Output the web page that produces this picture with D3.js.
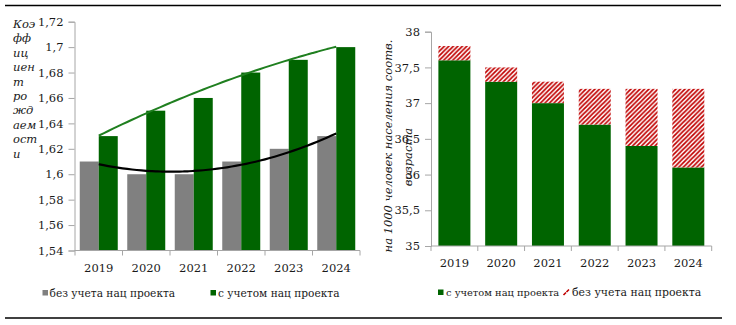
<!DOCTYPE html>
<html><head><meta charset="utf-8">
<script src="https://cdn.jsdelivr.net/npm/d3@7"></script>
<style>
html,body{margin:0;padding:0;background:#fff;}
svg{display:block;}
</style></head>
<body>
<svg id="c" width="736" height="325"></svg>
<script>
// ---- data ----
const years = ["2019","2020","2021","2022","2023","2024"];
// left chart: fertility coefficient
const fertWithout = [1.61, 1.60, 1.60, 1.61, 1.62, 1.63];
const fertWith    = [1.63, 1.65, 1.66, 1.68, 1.69, 1.70];
const leftTicks = [1.54,1.56,1.58,1.60,1.62,1.64,1.66,1.68,1.70,1.72];
const leftTitleLines = ["Коэ","фф","иц","иен","т","ро","жд","аем","ост","и"];
// right chart: per 1000 population
const rateWith    = [37.6, 37.3, 37.0, 36.7, 36.4, 36.1];
const rateWithout = [37.8, 37.5, 37.3, 37.2, 37.2, 37.2];
const rightTicks = [35,35.5,36,36.5,37,37.5,38];
const rightTitleLines = ["на 1000 человек населения соотв.","возраста"];
const legendLabels = ["без учета нац проекта","с учетом нац проекта"];

const svg = d3.select("#c");
const fmt = v => String(v).replace(".", ",");
const AX = "#a6a6a6";
const TICKFONT = "DejaVu Serif";
const TXT = "#1a1a1a";

// hatch pattern
const defs = svg.append("defs");
const pat = defs.append("pattern").attr("id","hatch").attr("patternUnits","userSpaceOnUse")
  .attr("width",4.5).attr("height",4.5);
pat.append("rect").attr("width",4.5).attr("height",4.5).attr("fill","#fff");
pat.append("path").attr("d","M-1.125,1.125 l2.25,-2.25 M0,4.5 l4.5,-4.5 M3.375,5.625 l2.25,-2.25")
  .attr("stroke","#c00000").attr("stroke-width",1.7);

// frame lines
svg.append("line").attr("x1",5).attr("x2",721).attr("y1",5.5).attr("y2",5.5).attr("stroke","#000").attr("stroke-width",1.5);
svg.append("line").attr("x1",5).attr("x2",722).attr("y1",318).attr("y2",318).attr("stroke","#000").attr("stroke-width",1.5);

function quadFit(ys){
  const n = ys.length, xs = d3.range(n);
  const mx = d3.mean(xs);
  const t = xs.map(x=>x-mx);
  const my = d3.mean(ys);
  const mt2 = d3.mean(t, v=>v*v);
  const b = d3.sum(t,(v,i)=>v*(ys[i]-my))/d3.sum(t,v=>v*v);
  const c = d3.sum(t,(v,i)=>(v*v-mt2)*(ys[i]-my))/d3.sum(t,v=>(v*v-mt2)*(v*v-mt2));
  const a = my - c*mt2;
  return x => { const u = x-mx; return a + b*u + c*u*u; };
}

// ================= LEFT CHART =================
{
  const x = d3.scaleBand().domain(years).range([75,360]).paddingInner(0.2).paddingOuter(0.1);
  const xs = d3.scaleBand().domain(["without","with"]).range([0,x.bandwidth()]);
  const y = d3.scaleLinear().domain([1.54,1.72]).range([250.5,21.7]);
  const g = svg.append("g");
  g.selectAll(".bw").data(years).join("rect")
    .attr("x",d=>x(d)+xs("without")).attr("width",xs.bandwidth())
    .attr("y",(d,i)=>y(fertWithout[i])).attr("height",(d,i)=>y(1.54)-y(fertWithout[i]))
    .attr("fill","#808080");
  g.selectAll(".bg").data(years).join("rect")
    .attr("x",d=>x(d)+xs("with")).attr("width",xs.bandwidth())
    .attr("y",(d,i)=>y(fertWith[i])).attr("height",(d,i)=>y(1.54)-y(fertWith[i]))
    .attr("fill","#006400");
  const ya = g.append("g").attr("transform","translate(74.5,0)")
    .call(d3.axisLeft(y).tickValues(leftTicks).tickFormat(fmt).tickSize(6).tickPadding(5));
  ya.select(".domain").attr("stroke",AX);
  ya.selectAll(".tick line").attr("stroke",AX);
  ya.selectAll("text").attr("font-family",TICKFONT).attr("font-size",11.5).attr("fill",TXT);
  const step = x.step();
  g.append("line").attr("x1",74.5).attr("x2",360).attr("y1",y(1.54)).attr("y2",y(1.54)).attr("stroke",AX);
  g.selectAll(".xt").data(d3.range(years.length+1)).join("line")
    .attr("x1",i=>75+i*step).attr("x2",i=>75+i*step)
    .attr("y1",y(1.54)).attr("y2",y(1.54)+5).attr("stroke",AX);
  g.selectAll(".xl").data(years).join("text")
    .attr("x",d=>x(d)+x.bandwidth()/2).attr("y",y(1.54)+21.5)
    .attr("text-anchor","middle").attr("font-family",TICKFONT).attr("font-size",11.5).attr("fill",TXT)
    .text(d=>d);
  // trend lines (quadratic least-squares fit of each series)
  const cx = d3.scaleLinear().domain([0,years.length-1])
    .range([x(years[0])+x.bandwidth()/2, x(years[years.length-1])+x.bandwidth()/2]);
  const samples = d3.range(0, years.length-1+1e-9, 0.1);
  const line = d3.line().x(d=>cx(d[0])).y(d=>y(d[1])).curve(d3.curveMonotoneX);
  const fG = quadFit(fertWith), fW = quadFit(fertWithout);
  g.append("path").attr("d",line(samples.map(s=>[s,fG(s)]))).attr("fill","none").attr("stroke","#1f7f1f").attr("stroke-width",2);
  g.append("path").attr("d",line(samples.map(s=>[s,fW(s)]))).attr("fill","none").attr("stroke","#000").attr("stroke-width",2.2);
  g.selectAll(".tt").data(leftTitleLines).join("text")
    .attr("x",13).attr("y",(d,i)=>28+i*14.4)
    .attr("font-family","DejaVu Serif").attr("font-style","italic").attr("font-size",11.5).attr("fill",TXT)
    .text(d=>d);
  const lg = g.append("g");
  lg.append("rect").attr("x",42.5).attr("y",290).attr("width",5.5).attr("height",5.5).attr("fill","#808080");
  lg.append("text").attr("x",49.5).attr("y",297).attr("font-family",TICKFONT).attr("font-size",10.6).attr("fill",TXT).text(legendLabels[0]);
  lg.append("rect").attr("x",210.5).attr("y",290).attr("width",5.5).attr("height",5.5).attr("fill","#006400");
  lg.append("text").attr("x",218).attr("y",297).attr("font-family",TICKFONT).attr("font-size",10.6).attr("fill",TXT).text(legendLabels[1]);
}

// ================= RIGHT CHART =================
{
  const x = d3.scaleBand().domain(years).range([431,711.7]).paddingInner(0.316).paddingOuter(0.158);
  const y = d3.scaleLinear().domain([35,38]).range([246,31.7]);
  const g = svg.append("g");
  g.selectAll(".rg").data(years).join("rect")
    .attr("x",d=>x(d)).attr("width",x.bandwidth())
    .attr("y",(d,i)=>y(rateWith[i])).attr("height",(d,i)=>y(35)-y(rateWith[i]))
    .attr("fill","#006400");
  g.selectAll(".rh").data(years).join("rect")
    .attr("x",d=>x(d)).attr("width",x.bandwidth())
    .attr("y",(d,i)=>y(rateWithout[i])).attr("height",(d,i)=>y(rateWith[i])-y(rateWithout[i]))
    .attr("fill","url(#hatch)");
  const ya = g.append("g").attr("transform","translate(431,0)")
    .call(d3.axisLeft(y).tickValues(rightTicks).tickFormat(fmt).tickSize(6).tickPadding(5));
  ya.select(".domain").attr("stroke",AX);
  ya.selectAll(".tick line").attr("stroke",AX);
  ya.selectAll("text").attr("font-family",TICKFONT).attr("font-size",11.5).attr("fill",TXT);
  const step = x.step();
  g.append("line").attr("x1",431).attr("x2",711.7).attr("y1",y(35)).attr("y2",y(35)).attr("stroke",AX);
  g.selectAll(".xt").data(d3.range(years.length+1)).join("line")
    .attr("x1",i=>431+i*step).attr("x2",i=>431+i*step)
    .attr("y1",y(35)).attr("y2",y(35)+5).attr("stroke",AX);
  g.selectAll(".xl").data(years).join("text")
    .attr("x",d=>x(d)+x.bandwidth()/2).attr("y",y(35)+21)
    .attr("text-anchor","middle").attr("font-family",TICKFONT).attr("font-size",11.5).attr("fill",TXT)
    .text(d=>d);
  const tpos = [[392,146],[412,157]];
  g.selectAll(".rt").data(rightTitleLines).join("text")
    .attr("transform",(d,i)=>`translate(${tpos[i][0]},${tpos[i][1]}) rotate(-90)`)
    .attr("text-anchor","middle")
    .attr("font-family","DejaVu Serif").attr("font-style","italic").attr("font-size",11.5).attr("fill",TXT)
    .text(d=>d);
  const lg = g.append("g");
  lg.append("rect").attr("x",438).attr("y",289.5).attr("width",5.5).attr("height",5.5).attr("fill","#006400");
  lg.append("text").attr("x",446).attr("y",296).attr("font-family",TICKFONT).attr("font-size",9.9).attr("fill",TXT).text(legendLabels[1]);
  lg.append("path").attr("d","M563.5,295 l2.5,-2.5 M566.5,292 l2.5,-2.5").attr("stroke","#c00000").attr("stroke-width",1.6);
  lg.append("text").attr("x",572).attr("y",296).attr("font-family",TICKFONT).attr("font-size",10.9).attr("fill",TXT).text(legendLabels[0]);
}
</script>
</body></html>
